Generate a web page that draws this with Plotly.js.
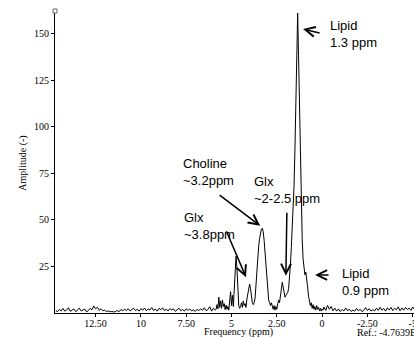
<!DOCTYPE html>
<html>
<head>
<meta charset="utf-8">
<script src="https://cdn.plot.ly/plotly-3.0.1.min.js"></script>
<style>
html,body{margin:0;padding:0;background:#fff;overflow:hidden;width:414px;height:339px;}
#chart{width:480px;height:339px;}
</style>
</head>
<body>
<div id="chart"></div>
<script>
// Baseline (left) region
var freqLeft = [14.7,14.6,14.5,14.4,14.3,14.2,14.1,14.0,13.9,13.8,13.7,13.6,13.5,13.4,13.3,13.2,13.1,13.0,12.9,12.8,12.7,12.6,12.5,12.4,12.3,12.2,12.1,12.0,11.9,11.8,11.7,11.6,11.5,11.4,11.3,11.2,11.1,11.0,10.9,10.8,10.7,10.6,10.5,10.4,10.3,10.2,10.1,10.0,9.9,9.8,9.7,9.6,9.5,9.4,9.3,9.2,9.1,9.0,8.9,8.8,8.7,8.6,8.5,8.4,8.3,8.2,8.1,8.0,7.9,7.8,7.7,7.6,7.5,7.4,7.3,7.2,7.1,7.0,6.9,6.8,6.7,6.6,6.5,6.4,6.3,6.2,6.1,6.0,5.9];
var ampLeft = [1.2,0.8,1.9,1.1,2.4,1.0,1.6,2.8,0.9,1.5,
  2.2,0.7,1.8,2.6,1.1,1.4,2.1,0.6,1.3,2.5,
  1.7,3.8,2.2,3.1,1.4,2.3,1.2,1.5,0.8,1.1,
  0.6,0.9,0.5,0.8,1.3,0.7,1.9,1.2,2.0,1.4,
  2.3,1.1,1.8,2.6,1.3,2.0,1.0,2.4,1.5,2.7,
  1.2,2.2,1.6,2.9,1.4,2.1,1.0,2.5,1.7,2.8,
  1.3,2.0,1.1,2.4,1.6,2.2,0.9,1.8,2.6,1.2,
  1.9,1.0,2.3,1.4,2.1,1.1,1.7,0.8,2.0,1.3,
  2.2,1.5,2.8,1.2,1.9,3.4,1.0,2.5,1.6];

// Metabolite / lipid region
var freqPeaks = [5.85,5.80,5.75,5.70,5.65,5.60,5.55,5.50,5.45,5.40,
  5.35,5.30,5.25,5.20,5.15,5.10,5.05,5.00,4.95,4.90,
  4.85,4.80,4.75,4.70,4.65,4.60,4.55,4.50,4.45,4.40,
  4.35,4.30,4.25,4.20,4.15,4.10,4.05,4.00,3.95,3.90,
  3.85,3.80,3.75,3.70,3.65,3.60,3.55,3.50,3.45,3.40,
  3.35,3.30,3.25,3.20,3.15,3.10,3.05,3.00,2.95,2.90,
  2.85,2.80,2.75,2.70,2.65,2.60,2.55,2.50,2.45,2.40,
  2.35,2.30,2.25,2.20,2.15,2.10,2.05,2.00,1.95,1.90,
  1.85,1.80,1.75,1.70,1.65,1.60,1.55,1.50,1.45,1.40,
  1.35,1.30,1.25,1.20,1.15,1.10,1.05,1.00,0.95,0.90,
  0.85,0.80,0.75,0.70,0.65,0.60,0.55,0.50,0.45,0.40,
  0.35,0.30,0.25,0.20,0.15,0.10,0.05,0.00,-0.05];
var ampPeaks = [2.0,4.5,2.2,8.5,3.0,6.5,2.5,7.0,3.5,5.0,
  1.8,4.2,2.0,3.5,1.5,6.0,11.5,4.0,9.5,3.5,
  12.0,22.0,30.5,24.0,12.0,4.0,2.5,3.5,5.5,3.0,
  6.5,4.0,5.0,3.0,7.5,10.0,14.0,15.5,13.0,8.0,
  5.5,4.5,5.5,8.0,15.0,25.0,31.0,36.0,40.0,43.0,
  45.0,45.5,43.5,39.0,33.0,27.0,19.0,12.0,7.0,5.5,
  4.0,5.5,3.0,2.0,4.0,1.5,3.5,2.0,5.0,7.0,
  5.5,9.0,13.0,16.5,14.0,10.5,8.5,9.5,10.5,11.0,
  13.0,18.0,26.0,35.0,44.0,54.0,68.0,88.0,112.0,138.0,
  161.0,138.0,112.0,84.0,58.0,40.0,29.0,23.0,20.5,22.0,
  19.0,14.0,9.0,6.0,4.0,5.5,2.5,4.5,2.0,3.5,
  1.5,4.0,2.0,3.0,1.2,2.5,1.0,2.2,1.5];

// Baseline (right) region
var freqRight = [-0.1,-0.2,-0.3,-0.4,-0.5,-0.6,-0.7,-0.8,-0.9,-1.0,
  -1.1,-1.2,-1.3,-1.4,-1.5,-1.6,-1.7,-1.8,-1.9,-2.0,
  -2.1,-2.2,-2.3,-2.4,-2.5,-2.6,-2.7,-2.8,-2.9,-3.0,
  -3.1,-3.2,-3.3,-3.4,-3.5,-3.6,-3.7,-3.8,-3.9,-4.0,
  -4.1,-4.2,-4.3,-4.4,-4.5,-4.6,-4.7,-4.8,-4.9,-5.0,
  -5.1,-5.2,-5.3];
var ampRight = [3.2,1.4,4.1,2.0,3.5,1.2,2.6,1.0,2.2,0.8,
  1.9,1.1,2.7,1.3,2.0,0.9,1.6,1.0,2.4,1.2,
  2.0,0.7,1.5,2.9,1.3,2.3,1.0,1.8,1.1,2.6,
  1.4,3.1,1.5,2.4,1.0,2.8,1.6,3.0,1.3,2.5,
  1.7,3.3,1.2,2.7,1.5,3.0,1.9,2.6,1.4,3.2,
  1.8,2.5,1.6];

// Axis ticks
var xTickVals = [12.5,10,7.5,5,2.5,0,-2.5,-5,-7.5];
var xTickText = ['12.50','10','7.50','5','2.50','0','-2.50','-5','-7.50'];
var yTickVals = [25,50,75,100,125,150];
var yTickText = ['25','50','75','100','125','150'];

// Peak labels
var labelText = ['Lipid<br>1.3 ppm','Choline<br>~3.2ppm','Glx<br>~2-2.5 ppm','Glx<br>~3.8ppm','Lipid<br>0.9 ppm'];

var freq = freqLeft.concat(freqPeaks, freqRight);
var amp = ampLeft.concat(ampPeaks, ampRight);

var serif = 'Liberation Serif, Times New Roman, serif';
var sans = 'Liberation Sans, Arial, sans-serif';

var trace = {
  x: freq, y: amp, type: 'scatter', mode: 'lines',
  line: {color: '#000', width: 1}, hoverinfo: 'skip'
};

function label(txt, x, y) {
  return {text: txt, x: x, y: y, xref: 'x', yref: 'y', xanchor: 'left', yanchor: 'middle',
    align: 'left', showarrow: false, font: {family: sans, size: 13, color: '#000'}};
}
function arrow(x, y, ax, ay) {
  return {text: ' ', x: x, y: y, xref: 'x', yref: 'y', ax: ax, ay: ay, showarrow: true,
    arrowhead: 5, arrowsize: 1.3, arrowwidth: 1.5, arrowcolor: '#000', standoff: 0,
    borderpad: 0, font: {size: 1}};
}

var layout = {
  width: 480, height: 339,
  margin: {l: 55, r: 10, t: 13, b: 26},
  paper_bgcolor: '#fff', plot_bgcolor: '#fff',
  showlegend: false,
  font: {family: serif, size: 10, color: '#000'},
  xaxis: {
    range: [14.74, -8.16], showgrid: false, zeroline: false,
    showline: true, linecolor: '#000', linewidth: 1,
    ticks: 'outside', ticklen: 3, tickcolor: '#000',
    ticklabelstandoff: -2,
    tickvals: xTickVals, ticktext: xTickText,
    tickfont: {family: serif, size: 10, color: '#000'}
  },
  yaxis: {
    range: [0, 161], showgrid: false, zeroline: false,
    showline: true, linecolor: '#000', linewidth: 1,
    ticks: 'outside', ticklen: 3, tickcolor: '#000',
    tickvals: yTickVals, ticktext: yTickText,
    tickfont: {family: serif, size: 10, color: '#000'},
    title: {text: 'Amplitude (-)', font: {family: serif, size: 10, color: '#000'}, standoff: 5}
  },
  shapes: [{
    type: 'rect', xref: 'paper', yref: 'paper', xsizemode: 'pixel', ysizemode: 'pixel',
    xanchor: 0, yanchor: 1, x0: -2, x1: 2, y0: 0, y1: 4,
    line: {color: '#666', width: 1}, fillcolor: 'rgba(0,0,0,0)'
  }],
  annotations: [
    label(labelText[0], -0.33, 149.7),
    arrow(1.05, 152.4, 17, 4),
    label(labelText[1], 7.78, 75.6),
    arrow(3.42, 46.8, -41, -31),
    label(labelText[2], 3.86, 66),
    arrow(2.0, 20, 1, -64),
    label(labelText[3], 7.73, 46.7),
    arrow(4.2, 19.2, -20, -47),
    label(labelText[4], -0.99, 16.6),
    arrow(0.39, 20.4, 14, 0),
    {text: 'Frequency (ppm)', xref: 'x', yref: 'paper', x: 4.6, y: -0.087,
     xanchor: 'center', yanchor: 'bottom', showarrow: false, borderpad: 0,
     font: {family: serif, size: 10, color: '#000'}},
    {text: 'Ref.: -4.7639E00 ppm', xref: 'x', yref: 'paper', x: -1.88, y: -0.087,
     xanchor: 'left', yanchor: 'bottom', showarrow: false, borderpad: 0,
     font: {family: serif, size: 10, color: '#000'}}
  ]
};

Plotly.newPlot('chart', [trace], layout, {displayModeBar: false, staticPlot: true});
</script>
</body>
</html>
